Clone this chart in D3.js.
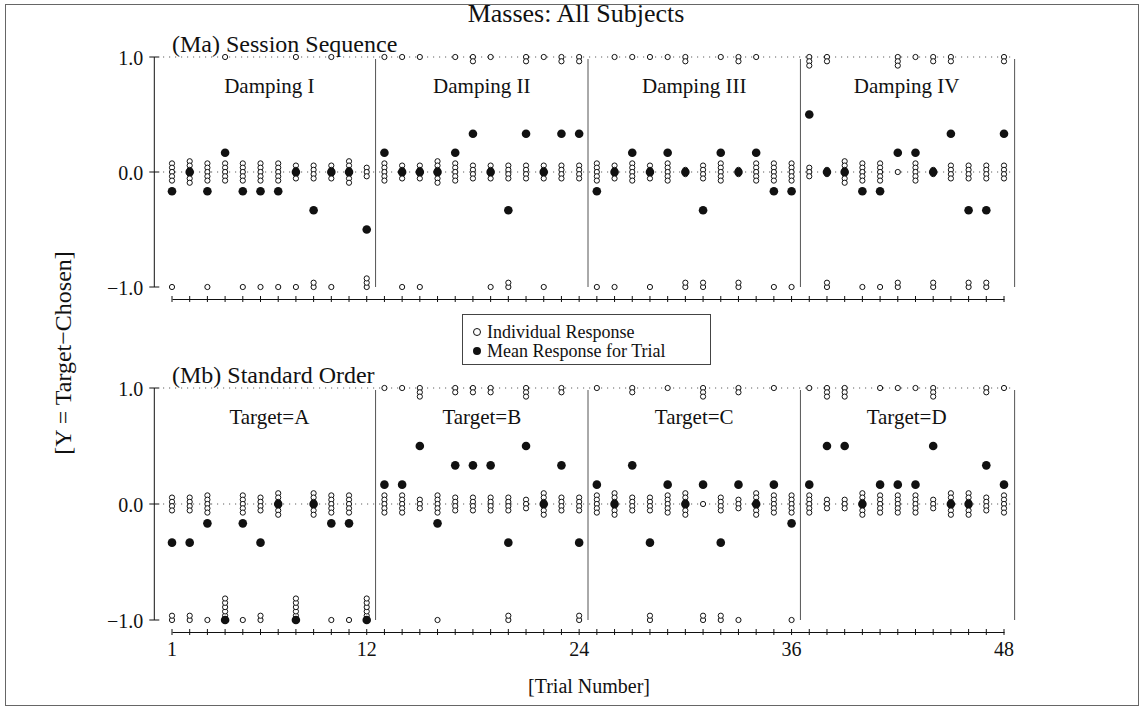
<!DOCTYPE html>
<html>
<head>
<meta charset="utf-8">
<script src="https://cdn.jsdelivr.net/npm/d3@7"></script>
<style>
  body { margin: 0; background: #fff; }
  svg { display: block; }
  text { font-family: "Liberation Serif", "Times New Roman", serif; fill: #111; }
</style>
</head>
<body>
<svg id="chart" width="1144" height="709"></svg>
<script>
// ---- data -------------------------------------------------------------
const trialTickLabels = [1, 12, 24, 36, 48];
const yTickValues = [1, 0, -1];

const maSections = ["Damping I", "Damping II", "Damping III", "Damping IV"];
const mbSections = ["Target=A", "Target=B", "Target=C", "Target=D"];

// (Ma) Session Sequence: number of subjects at -1, 0, +1 for trials 1..48
const maMinus = [1,0,1,0,1,1,1,1,2,1,0,3,  0,1,1,0,0,0,1,2,0,1,0,0,
                 1,1,0,1,0,2,2,0,2,0,1,1,  0,2,0,1,1,2,0,2,0,2,2,0];
const maZero  = [5,6,5,5,5,5,5,4,4,4,6,3,  5,4,4,6,5,4,4,4,4,4,4,4,
                 5,4,5,4,5,2,4,5,2,5,5,5,  3,2,6,5,5,1,5,2,4,4,4,4];
const maPlus  = [0,0,0,1,0,0,0,1,0,1,0,0,  1,1,1,0,1,2,1,0,2,1,2,2,
                 0,1,1,1,1,2,0,1,2,1,0,0,  3,2,0,0,0,3,1,2,2,0,0,2];
const maMean  = [-0.167,0,-0.167,0.167,-0.167,-0.167,-0.167,0,-0.333,0,0,-0.5,
                 0.167,0,0,0,0.167,0.333,0,-0.333,0.333,0,0.333,0.333,
                 -0.167,0,0.167,0,0.167,0,-0.333,0.167,0,0.167,-0.167,-0.167,
                 0.5,0,0,-0.167,-0.167,0.167,0.167,0,0.333,-0.333,-0.333,0.333];

// (Mb) Standard Order
const mbMinus = [2,2,1,6,1,2,0,6,0,1,1,6,  0,0,0,1,0,0,0,2,0,0,0,2,
                 0,0,0,2,0,0,2,2,1,0,0,1,  0,0,0,0,0,0,0,0,0,0,0,0];
const mbZero  = [4,4,5,0,5,4,6,0,6,5,5,0,  5,5,3,5,4,4,4,4,3,6,4,4,
                 5,6,4,4,5,6,1,4,3,6,5,5,  5,3,3,6,5,5,5,3,6,6,4,5];
const mbPlus  = [0,0,0,0,0,0,0,0,0,0,0,0,  1,1,3,0,2,2,2,0,3,0,2,0,
                 1,0,2,0,1,0,3,0,2,0,1,0,  1,3,3,0,1,1,1,3,0,0,2,1];
const mbMean  = [-0.333,-0.333,-0.167,-1,-0.167,-0.333,0,-1,0,-0.167,-0.167,-1,
                 0.167,0.167,0.5,-0.167,0.333,0.333,0.333,-0.333,0.5,0,0.333,-0.333,
                 0.167,0,0.333,-0.333,0.167,0,0.167,-0.333,0.167,0,0.167,-0.167,
                 0.167,0.5,0.5,0,0.167,0.167,0.167,0.5,0,0,0.333,0.167];

// ---- layout -----------------------------------------------------------
const svg = d3.select("#chart");
const ink = "#111";
const trials = maMean.map((d, i) => i + 1);

const x = d3.scaleLinear().domain([1, 48]).range([172, 1004]);

// outer frame
svg.append("rect").attr("x", 5.5).attr("y", 4.5).attr("width", 1133).attr("height", 701)
  .attr("fill", "none").attr("stroke", "#666").attr("stroke-width", 1);

svg.append("text").attr("x", 576).attr("y", 22).attr("text-anchor", "middle")
  .style("font-size", "26px").text("Masses: All Subjects");

svg.append("text")
  .attr("transform", "translate(71,353) rotate(-90)")
  .attr("text-anchor", "middle").style("font-size", "24px")
  .text("[Y = Target\u2212Chosen]");

const openR = 2.6, fillR = 4.3, step = 4.3;

function drawPanel(cfg) {
  const y = d3.scaleLinear().domain([-1, 1]).range([cfg.bottom, cfg.top]);
  const g = svg.append("g");

  // dotted reference lines at 1.0 and 0.0
  [1, 0].forEach(v => {
    g.append("line").attr("x1", x(0.5)).attr("x2", x(48.6))
      .attr("y1", y(v)).attr("y2", y(v))
      .attr("stroke", "#444").attr("stroke-width", 1).attr("stroke-dasharray", "1,5");
  });

  // left axis
  g.append("line").attr("x1", x(0)).attr("x2", x(0)).attr("y1", y(1)).attr("y2", y(-1))
    .attr("stroke", ink).attr("stroke-width", 1);
  yTickValues.forEach(v => {
    g.append("line").attr("x1", x(0) - 5).attr("x2", x(0) + 5).attr("y1", y(v)).attr("y2", y(v))
      .attr("stroke", ink).attr("stroke-width", 1);
    g.append("text").attr("x", x(0) - 11).attr("y", y(v) + 8).attr("text-anchor", "end")
      .style("font-size", "20px").text(v === 0 ? "0.0" : (v > 0 ? "1.0" : "\u22121.0"));
  });

  // section dividers
  [12.5, 24.5, 36.5, 48.6].forEach(b => {
    g.append("line").attr("x1", x(b)).attr("x2", x(b)).attr("y1", y(1) + 2).attr("y2", y(-1))
      .attr("stroke", "#555").attr("stroke-width", 1);
  });

  // section labels
  cfg.sections.forEach((s, k) => {
    g.append("text").attr("x", x(6.5 + 12 * k)).attr("y", y(1) + 36)
      .attr("text-anchor", "middle").style("font-size", "21px").text(s);
  });

  // panel title
  g.append("text").attr("x", x(1)).attr("y", y(1) - 5).style("font-size", "24px").text(cfg.title);

  // bottom axis with a tick on every trial
  const axisY = y(-1) + 12;
  const axis = d3.axisBottom(x).tickValues(trials).tickSize(0).tickFormat("");
  const ax = g.append("g").attr("transform", `translate(0,${axisY})`).call(axis);
  ax.select(".domain").attr("stroke", ink).attr("stroke-width", 1);
  g.selectAll(null).data(trials).enter().append("line")
    .attr("x1", d => x(d)).attr("x2", d => x(d))
    .attr("y1", axisY - 3).attr("y2", axisY + 3)
    .attr("stroke", ink).attr("stroke-width", 1);
  if (cfg.labels) {
    g.selectAll(null).data(trialTickLabels).enter().append("text")
      .attr("x", d => x(d)).attr("y", axisY + 24).attr("text-anchor", "middle")
      .style("font-size", "20px").text(d => d);
  }

  // individual responses: stacked open circles at each response level
  const pts = [];
  trials.forEach((t, i) => {
    for (let k = 0; k < cfg.plus[i]; k++) pts.push({ t, py: y(1) + k * step });
    for (let k = 0; k < cfg.minus[i]; k++) pts.push({ t, py: y(-1) - k * step });
    const n = cfg.zero[i];
    for (let k = 0; k < n; k++) pts.push({ t, py: y(0) + (k - (n - 1) / 2) * step });
  });
  g.selectAll(null).data(pts).enter().append("circle")
    .attr("cx", d => x(d.t)).attr("cy", d => d.py).attr("r", openR)
    .attr("fill", "#fff").attr("stroke", ink).attr("stroke-width", 1);

  // trial means
  g.selectAll(null).data(cfg.mean).enter().append("circle")
    .attr("cx", (d, i) => x(trials[i])).attr("cy", d => y(d)).attr("r", fillR)
    .attr("fill", ink);
}

drawPanel({ top: 57, bottom: 287, title: "(Ma) Session Sequence", sections: maSections,
            minus: maMinus, zero: maZero, plus: maPlus, mean: maMean, labels: false });
drawPanel({ top: 388, bottom: 620, title: "(Mb) Standard Order", sections: mbSections,
            minus: mbMinus, zero: mbZero, plus: mbPlus, mean: mbMean, labels: true });

svg.append("text").attr("x", 589).attr("y", 693).attr("text-anchor", "middle")
  .style("font-size", "20px").text("[Trial Number]");

// legend
const lg = svg.append("g");
lg.append("rect").attr("x", 462.5).attr("y", 314.5).attr("width", 248).attr("height", 50)
  .attr("fill", "#fff").attr("stroke", "#444").attr("stroke-width", 1);
lg.append("circle").attr("cx", 477).attr("cy", 332).attr("r", 3.5)
  .attr("fill", "#fff").attr("stroke", ink).attr("stroke-width", 1);
lg.append("text").attr("x", 487).attr("y", 338).style("font-size", "18px").text("Individual Response");
lg.append("circle").attr("cx", 477).attr("cy", 351).attr("r", 4).attr("fill", ink);
lg.append("text").attr("x", 487).attr("y", 357).style("font-size", "18px").text("Mean Response for Trial");
</script>
</body>
</html>
